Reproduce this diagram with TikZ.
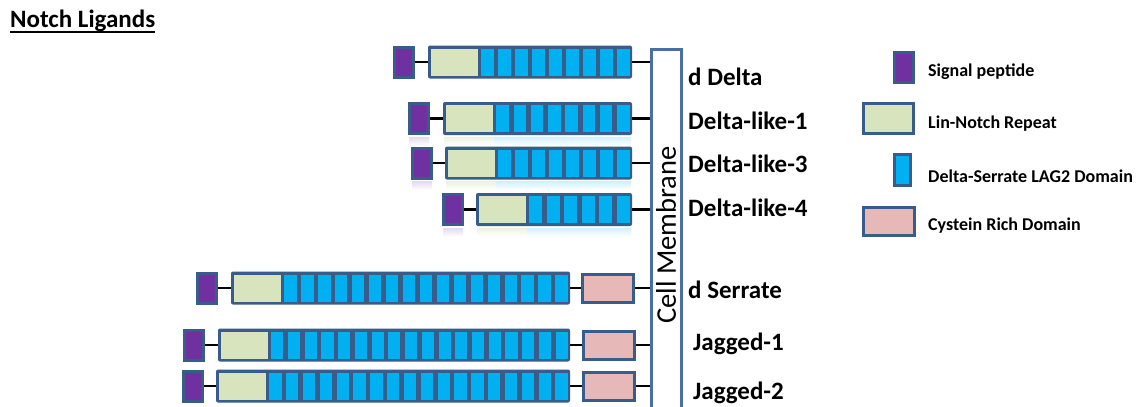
\documentclass[tikz,border=0pt]{standalone}
\usepackage{fontspec}
\setmainfont{Carlito}
\definecolor{bord}{HTML}{385D8A}
\definecolor{memb}{HTML}{4A6FA5}
\definecolor{sigc}{HTML}{7030A0}
\definecolor{linc}{HTML}{D7E4BD}
\definecolor{dslc}{HTML}{00B0F0}
\definecolor{cysc}{HTML}{E6B9B8}
\tikzset{
  sigbox/.style={fill=sigc, draw=bord, line width=3pt, minimum width=19pt, minimum height=30pt, inner sep=0pt},
  chainbox/.style={fill=bord, draw=none, outer sep=0pt, inner sep=0pt, minimum height=33pt, rounded corners=2pt},
  cysbox/.style={fill=cysc, draw=bord, line width=3pt, minimum width=51pt, minimum height=28pt, inner sep=0pt},
  linbox/.style={fill=linc, draw=bord, line width=3pt, minimum width=50pt, minimum height=30pt, inner sep=0pt},
  dslbox/.style={fill=dslc, draw=bord, line width=3pt, minimum width=16pt, minimum height=31pt, inner sep=0pt},
  conn/.style={draw=black, line width=2.8pt},
  lbl/.style={anchor=base west, inner sep=0pt, font=\fontsize{25}{30}\selectfont\bfseries},
  legtxt/.style={anchor=base west, inner sep=0pt, font=\fontsize{18}{22}\selectfont\bfseries},
}
\newcommand\lgrow[7]{%
  \node[sigbox, anchor=west] (s#1) at (#3,#2) {};
  \node[chainbox, anchor=west, minimum width={#6-#4}] (c#1) at (#4,#2) {};
  \pgfmathsetmacro\lgG{#4+51}
  \pgfmathsetmacro\lgP{(#6-#4-51)/#5}
  \fill[linc] (#4+3,#2-13.5) rectangle (\lgG-1.5,#2+13.5);
  \foreach \i in {1,...,#5}{
    \fill[dslc] ({\lgG+(\i-1)*\lgP+2.3},#2-13.5) rectangle ({\lgG+\i*\lgP-2.3},#2+13.5);
  }
  \draw[conn] (s#1) -- (c#1);
  \ifnum#7=1
    \shade[top color=sigc!18, bottom color=white] (#3+1,#2+18.5) rectangle (#3+21,#2+27);
    \shade[top color=linc!45, bottom color=white] (#4+1,#2+18.5) rectangle (\lgG,#2+27);
    \shade[top color=dslc!18, bottom color=white] (\lgG,#2+18.5) rectangle (#6-1,#2+27);
  \fi
}
\begin{document}
\begin{tikzpicture}[x=1pt,y=-1pt]
\useasboundingbox[fill=white] (0,0) rectangle (1141,407);
% title
\node[anchor=base west, inner sep=0pt, font=\fontsize{25}{29}\selectfont\bfseries] (title) at (10,27) {Notch Ligands};
\draw[line width=2pt] ([yshift=-5pt]title.base west) -- ([yshift=-5pt]title.base east);
% membrane
\node[draw=memb, line width=2.6pt, fill=white, minimum width=30pt, minimum height=400pt, anchor=north west, inner sep=0pt, outer sep=1.3pt] (mem) at (650,48) {};
\node[rotate=90, inner sep=0pt, font=\fontsize{28.5}{32}\selectfont] (memtxt) at (666,235) {Cell Membrane};
% rows
\lgrow{1}{62}{393}{428}{9}{632}{0}
\lgrow{2}{118.5}{408}{443}{8}{632}{1}
\lgrow{3}{163}{411}{445}{8}{632}{1}
\lgrow{4}{209.5}{442}{476}{6}{632}{1}
\lgrow{5}{288}{196}{231}{17}{570}{0}
\lgrow{6}{345}{183}{218}{18}{570}{0}
\lgrow{7}{386}{182}{216}{18}{570}{0}
\node[cysbox, anchor=west] (p5) at (581,288) {};
\node[cysbox, anchor=west] (p6) at (582,345) {};
\node[cysbox, anchor=west] (p7) at (582,386) {};
\draw[conn] (c5) -- (p5);
\draw[conn] (c6) -- (p6);
\draw[conn] (c7) -- (p7);
% connectors to membrane
\foreach \n in {1,2,3,4}{ \draw[conn] (c\n.east) -- (c\n.east -| mem.west); }
\foreach \n in {5,6,7}{ \draw[conn] (p\n.east) -- (p\n.east -| mem.west); }
% labels
\node[lbl] (l1) at (688,85) {d Delta};
\node[lbl] (l2) at (688,129) {Delta-like-1};
\node[lbl] (l3) at (688,172) {Delta-like-3};
\node[lbl] (l4) at (688,216) {Delta-like-4};
\node[lbl] (l5) at (688,298) {d Serrate};
\node[lbl] (l6) at (693,350) {Jagged-1};
\node[lbl] (l7) at (693,399) {Jagged-2};
% legend
\node[sigbox] (k1) at (904,67) {};
\node[linbox] (k2) at (888.5,118.5) {};
\node[dslbox] (k3) at (902.5,170) {};
\node[cysbox] (k4) at (888.5,221.5) {};
\node[legtxt] (t1) at (928,76) {Signal peptide};
\node[legtxt] (t2) at (928,128) {Lin-Notch Repeat};
\node[legtxt] (t3) at (928,182) {Delta-Serrate LAG2 Domain};
\node[legtxt] (t4) at (928,230) {Cystein Rich Domain};
\end{tikzpicture}
\end{document}
